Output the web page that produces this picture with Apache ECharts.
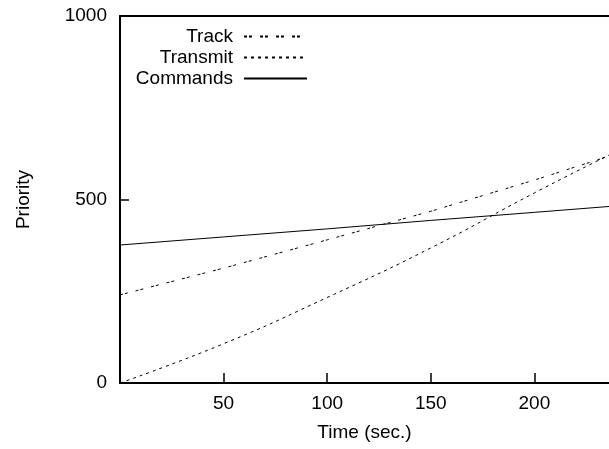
<!DOCTYPE html>
<html>
<head>
<meta charset="utf-8">
<script src="https://cdn.jsdelivr.net/npm/echarts@6/dist/echarts.min.js"></script>
<style>
  html, body { margin: 0; padding: 0; background: #fff; }
  #chart { width: 609px; height: 449px; }
</style>
</head>
<body>
<div id="chart"></div>
<script>
// values
const times = [0, 50, 100, 150, 200, 236];
const trackValues = [240, 313, 390, 468, 553, 618];
const transmitValues = [0, 107, 233, 368, 518, 621];
const commandsValues = [376, 398, 420, 443, 465, 481];
const seriesNames = ["Track", "Transmit", "Commands"];
const legendRows = [27, 48, 69];

const font = "'Liberation Sans', Arial, sans-serif";
const chart = echarts.init(document.getElementById("chart"));

const pairs = vals => times.map((t, i) => [t, vals[i]]);

chart.setOption({
  animation: false,
  backgroundColor: "#fff",
  textStyle: { fontFamily: font, color: "#000" },
  grid: { left: 120, right: 0, top: 16, bottom: 66 },
  legend: seriesNames.map((name, i) => ({
    data: [name],
    orient: "vertical",
    align: "right",
    right: 301,
    top: legendRows[i],
    itemWidth: 63,
    itemHeight: 14,
    itemGap: 0,
    padding: 0,
    selectedMode: false,
    itemStyle: { opacity: 0 },
    textStyle: { fontFamily: font, fontSize: 19, color: "#000", padding: [0, 6, 0, 0] }
  })),
  xAxis: [
    {
      type: "value",
      min: 0,
      max: 236,
      interval: 50,
      name: "Time (sec.)",
      nameLocation: "middle",
      nameGap: 40,
      nameTextStyle: { fontFamily: font, fontSize: 19, color: "#000" },
      splitLine: { show: false },
      axisLine: { lineStyle: { color: "#000", width: 2 } },
      axisTick: { inside: true, length: 10, lineStyle: { color: "#000", width: 1.5 } },
      axisLabel: {
        fontFamily: font, fontSize: 19, color: "#000", margin: 11,
        showMinLabel: false, showMaxLabel: false,
        formatter: v => (v % 50 === 0 && v > 0 ? String(v) : "")
      }
    },
    {
      type: "value",
      position: "top",
      min: 0,
      max: 236,
      splitLine: { show: false },
      axisLine: { show: true, lineStyle: { color: "#000", width: 2 } },
      axisTick: { show: false },
      axisLabel: { show: false }
    }
  ],
  yAxis: {
    type: "value",
    min: 0,
    max: 1000,
    interval: 500,
    name: "Priority",
    nameLocation: "middle",
    nameGap: 87,
    nameTextStyle: { fontFamily: font, fontSize: 19, color: "#000" },
    splitLine: { show: false },
    axisLine: { show: true, lineStyle: { color: "#000", width: 2 } },
    axisTick: { inside: true, length: 9, lineStyle: { color: "#000", width: 1.5 } },
    axisLabel: { fontFamily: font, fontSize: 19, color: "#000", margin: 13, formatter: v => String(v) }
  },
  series: [
    {
      name: "Track",
      type: "line",
      symbol: "none",
      data: pairs(trackValues),
      lineStyle: { color: "#000", width: 1, type: [3, 2, 3, 8] },
      itemStyle: { color: "#000" }
    },
    {
      name: "Transmit",
      type: "line",
      symbol: "none",
      smooth: true,
      data: pairs(transmitValues),
      lineStyle: { color: "#000", width: 1, type: [3, 4] },
      itemStyle: { color: "#000" }
    },
    {
      name: "Commands",
      type: "line",
      symbol: "none",
      data: pairs(commandsValues),
      lineStyle: { color: "#000", width: 1, type: "solid" },
      itemStyle: { color: "#000" }
    }
  ]
});
</script>
</body>
</html>
